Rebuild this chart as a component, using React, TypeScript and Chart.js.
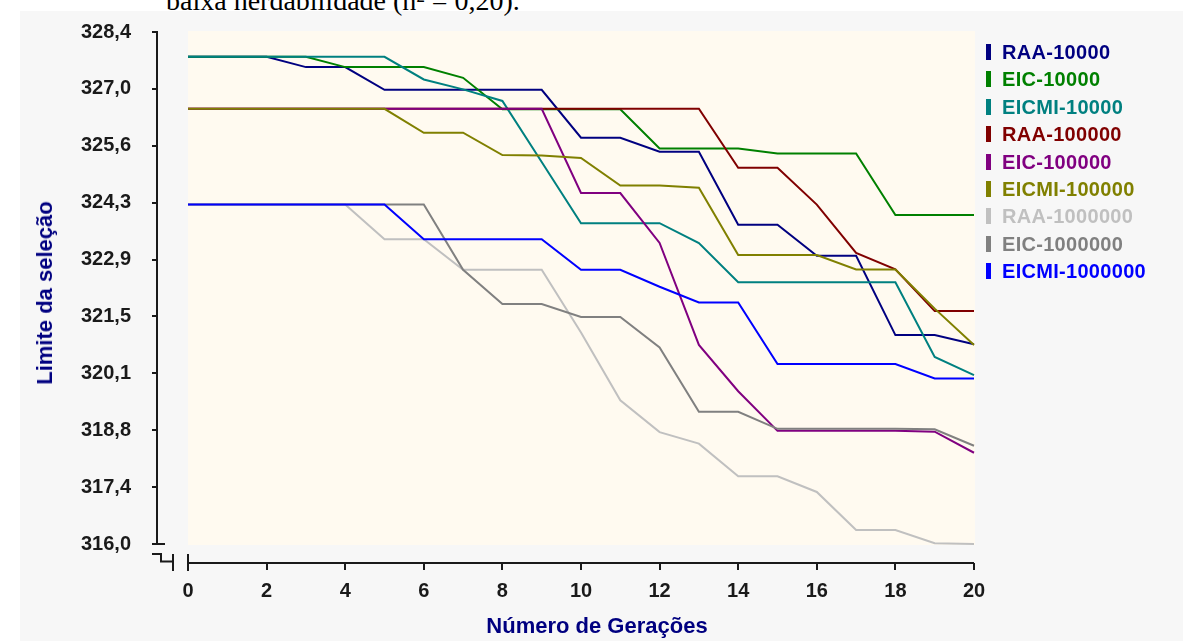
import React, { useEffect, useRef } from "react";
import { Chart, registerables } from "chart.js";

Chart.register(...registerables);

// ---------- data ----------
const GENERATIONS = [0, 1, 2, 3, 4, 5, 6, 7, 8, 9, 10, 11, 12, 13, 14, 15, 16, 17, 18, 19, 20];
const X_TICKS = [0, 2, 4, 6, 8, 10, 12, 14, 16, 18, 20];
const Y_TICKS = [316.0, 317.378, 318.756, 320.133, 321.511, 322.889, 324.267, 325.644, 327.022, 328.4];
const Y_TICK_LABELS = ["316,0", "317,4", "318,8", "320,1", "321,5", "322,9", "324,3", "325,6", "327,0", "328,4"];

const SERIES_NAMES = [
  "RAA-10000",
  "EIC-10000",
  "EICMI-10000",
  "RAA-100000",
  "EIC-100000",
  "EICMI-100000",
  "RAA-1000000",
  "EIC-1000000",
  "EICMI-1000000",
];
const SERIES_COLORS = ["#000080", "#008000", "#008080", "#800000", "#800080", "#808000", "#C0C0C0", "#808080", "#0000FF"];

const RAA_10000 = [327.8, 327.8, 327.8, 327.55, 327.55, 327.0, 327.0, 327.0, 327.0, 327.0, 325.84, 325.84, 325.5, 325.5, 323.73, 323.73, 322.98, 322.98, 321.06, 321.06, 320.84];
const EIC_10000 = [327.8, 327.8, 327.8, 327.8, 327.55, 327.55, 327.55, 327.29, 326.53, 326.53, 326.53, 326.53, 325.58, 325.58, 325.58, 325.46, 325.46, 325.46, 323.97, 323.97, 323.97];
const EICMI_10000 = [327.8, 327.8, 327.8, 327.8, 327.8, 327.8, 327.25, 327.01, 326.73, 325.25, 323.77, 323.77, 323.77, 323.29, 322.34, 322.34, 322.34, 322.34, 322.34, 320.53, 320.09];
const RAA_100000 = [326.54, 326.54, 326.54, 326.54, 326.54, 326.54, 326.54, 326.54, 326.54, 326.54, 326.54, 326.54, 326.54, 326.54, 325.11, 325.11, 324.22, 323.05, 322.65, 321.64, 321.64];
const EIC_100000 = [326.54, 326.54, 326.54, 326.54, 326.54, 326.54, 326.54, 326.54, 326.54, 326.54, 324.5, 324.5, 323.29, 320.82, 319.7, 318.74, 318.74, 318.74, 318.74, 318.72, 318.21];
const EICMI_100000 = [326.54, 326.54, 326.54, 326.54, 326.54, 326.54, 325.96, 325.96, 325.42, 325.41, 325.35, 324.68, 324.68, 324.63, 323.0, 323.0, 323.0, 322.65, 322.65, 321.7, 320.82];
const RAA_1000000 = [324.22, 324.22, 324.22, 324.22, 324.22, 323.38, 323.38, 322.64, 322.64, 322.64, 321.12, 319.48, 318.71, 318.43, 317.64, 317.64, 317.26, 316.34, 316.34, 316.02, 316.0];
const EIC_1000000 = [324.22, 324.22, 324.22, 324.22, 324.22, 324.22, 324.22, 322.64, 321.81, 321.81, 321.5, 321.5, 320.76, 319.2, 319.2, 318.79, 318.79, 318.79, 318.79, 318.78, 318.38];
const EICMI_1000000 = [324.22, 324.22, 324.22, 324.22, 324.22, 324.22, 323.38, 323.38, 323.38, 323.38, 322.64, 322.64, 322.23, 321.85, 321.85, 320.36, 320.36, 320.36, 320.36, 320.01, 320.01];

const SERIES_VALUES = [RAA_10000, EIC_10000, EICMI_10000, RAA_100000, EIC_100000, EICMI_100000, RAA_1000000, EIC_1000000, EICMI_1000000];

const X_TITLE = "Número de Gerações";
const Y_TITLE = "Limite da seleção";
const PAGE_FRAGMENT = "baixa herdabilidade (h² = 0,20).";

// ---------- styling ----------
const FONT = "'Liberation Sans', Arial, Helvetica, sans-serif";
const W = 1183;
const H = 641;

const axesPlugin = {
  id: "customAxes",
  beforeDraw(chart: any) {
    const { ctx, chartArea: a } = chart;
    ctx.save();
    ctx.fillStyle = "#FFFAF0";
    ctx.fillRect(a.left, a.top - 1, a.right - a.left + 1, a.bottom - a.top + 2);
    ctx.restore();
  },
  afterDraw(chart: any) {
    const { ctx, chartArea: a, scales } = chart;
    const xs = scales.x;
    const ys = scales.y;
    const ax = a.left - 31; // y-axis line
    const bx = a.bottom + 19; // x-axis line
    ctx.save();
    ctx.strokeStyle = "#1a1a1a";
    ctx.lineWidth = 2;
    ctx.beginPath();
    const yTop = ys.getPixelForValue(Y_TICKS[Y_TICKS.length - 1]);
    const yBot = ys.getPixelForValue(Y_TICKS[0]);
    ctx.moveTo(ax, yTop - 1);
    ctx.lineTo(ax, yBot);
    Y_TICKS.forEach((v, i) => {
      const py = Math.round(ys.getPixelForValue(v));
      if (i === 0) {
        ctx.moveTo(ax - 5, py);
        ctx.lineTo(ax + 8, py);
      } else {
        ctx.moveTo(ax - 5, py);
        ctx.lineTo(ax, py);
      }
    });
    // break symbol
    ctx.moveTo(ax - 5, bx - 9);
    ctx.lineTo(ax + 4, bx - 9);
    ctx.lineTo(ax + 4, bx - 1.5);
    ctx.lineTo(ax + 16, bx - 1.5);
    ctx.moveTo(ax + 16, bx - 9);
    ctx.lineTo(ax + 16, bx + 8);
    // x axis
    const x0 = xs.getPixelForValue(X_TICKS[0]);
    const x1 = xs.getPixelForValue(X_TICKS[X_TICKS.length - 1]);
    ctx.moveTo(x0, bx - 9);
    ctx.lineTo(x0, bx + 8);
    ctx.moveTo(x0, bx);
    ctx.lineTo(x1, bx);
    X_TICKS.forEach((v) => {
      const px = Math.round(xs.getPixelForValue(v));
      ctx.moveTo(px, bx);
      ctx.lineTo(px, bx + 7);
    });
    ctx.stroke();
    ctx.restore();
  },
};

function LineChart() {
  const ref = useRef<HTMLCanvasElement | null>(null);
  useEffect(() => {
    if (!ref.current) return;
    const chart = new Chart(ref.current, {
      type: "line",
      data: {
        labels: GENERATIONS,
        datasets: SERIES_NAMES.map((name, i) => ({
          label: name,
          data: SERIES_VALUES[i].map((v, j) => ({ x: GENERATIONS[j], y: v })),
          borderColor: SERIES_COLORS[i],
          backgroundColor: SERIES_COLORS[i],
          borderWidth: 2,
          pointRadius: 0,
          tension: 0,
          fill: false,
          clip: false as any,
          order: -i,
        })),
      },
      options: {
        responsive: false,
        maintainAspectRatio: false,
        animation: false,
        layout: { padding: { top: 32, right: 209, left: 0, bottom: 0 } },
        plugins: {
          legend: { display: false },
          tooltip: { enabled: false },
        },
        scales: {
          x: {
            type: "linear",
            min: 0,
            max: 20,
            grid: { display: false, drawTicks: false },
            border: { display: false },
            afterBuildTicks: (s: any) => {
              s.ticks = X_TICKS.map((v) => ({ value: v }));
            },
            afterFit: (s: any) => {
              s.height = 97;
              s.paddingLeft = 0;
              s.paddingRight = 0;
            },
            ticks: {
              autoSkip: false,
              maxRotation: 0,
              padding: 35,
              color: "#1a1a1a",
              font: { family: FONT, size: 20, weight: "bold" },
              callback: (v: any) => String(v),
            },
          },
          y: {
            type: "linear",
            min: 316,
            max: 328.4,
            grid: { display: false, drawTicks: false },
            border: { display: false },
            afterBuildTicks: (s: any) => {
              s.ticks = Y_TICKS.map((v) => ({ value: v }));
            },
            afterFit: (s: any) => {
              s.width = 188;
              s.paddingTop = 0;
              s.paddingBottom = 0;
            },
            ticks: {
              autoSkip: false,
              padding: 57,
              color: "#1a1a1a",
              font: { family: FONT, size: 20, weight: "bold" },
              callback: (_v: any, i: number) => Y_TICK_LABELS[i],
            },
          },
        },
      },
      plugins: [axesPlugin],
    });
    return () => chart.destroy();
  }, []);
  return <canvas ref={ref} width={W} height={H} style={{ position: "absolute", left: 0, top: 0, width: W, height: H }} />;
}

export default function App() {
  return (
    <div style={{ position: "fixed", left: 0, top: 0, width: W, height: H, background: "#ffffff", overflow: "hidden" }}>
      <div style={{ position: "absolute", left: 20, top: 11, width: W - 20, height: H - 11, background: "#F7F7F7" }} />
      <div
        style={{
          position: "absolute",
          left: 166,
          top: -13,
          fontFamily: "'Liberation Serif', 'Times New Roman', serif",
          fontSize: 28,
          lineHeight: "28px",
          color: "#000",
          whiteSpace: "nowrap",
        }}
      >
        {PAGE_FRAGMENT}
      </div>
      <LineChart />
      <div
        style={{
          position: "absolute",
          left: 597,
          top: 615,
          transform: "translateX(-50%)",
          fontFamily: FONT,
          fontWeight: "bold",
          fontSize: 22,
          lineHeight: "22px",
          color: "#000080",
          whiteSpace: "nowrap",
        }}
      >
        {X_TITLE}
      </div>
      <div
        style={{
          position: "absolute",
          left: 45,
          top: 293,
          transform: "translate(-50%, -50%) rotate(-90deg)",
          fontFamily: FONT,
          fontWeight: "bold",
          fontSize: 22,
          lineHeight: "22px",
          color: "#000080",
          whiteSpace: "nowrap",
        }}
      >
        {Y_TITLE}
      </div>
      {SERIES_NAMES.map((name, i) => {
        const cy = 52 + 27.4 * i;
        return (
          <React.Fragment key={name}>
            <div style={{ position: "absolute", left: 986, top: cy - 8, width: 5, height: 16, background: SERIES_COLORS[i] }} />
            <div
              style={{
                position: "absolute",
                left: 1002,
                top: cy - 11,
                fontFamily: FONT,
                fontWeight: "bold",
                fontSize: 20,
                lineHeight: "22px",
                letterSpacing: "0.3px",
                color: SERIES_COLORS[i],
                whiteSpace: "nowrap",
              }}
            >
              {name}
            </div>
          </React.Fragment>
        );
      })}
    </div>
  );
}
